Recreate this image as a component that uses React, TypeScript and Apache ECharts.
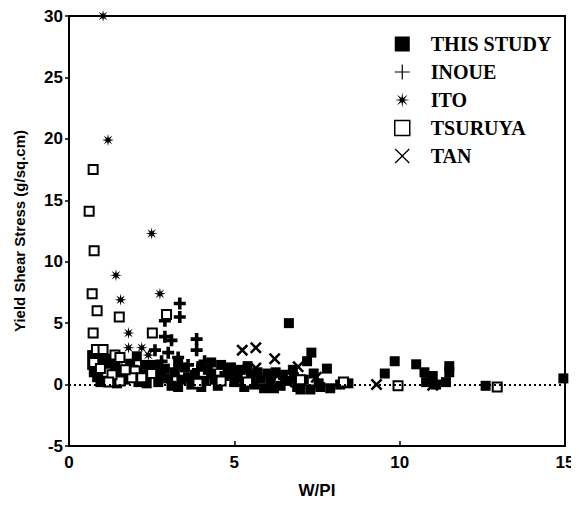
import React, { useEffect, useRef } from "react";
import * as echarts from "echarts";

const xTicks = [0, 5, 10, 15];
const yTicks = [-5, 0, 5, 10, 15, 20, 25, 30];

const thisStudy: [number, number][] = [
  [0.7, 2.4], [0.7, 1.6], [0.75, 1.0], [0.85, 0.6], [0.95, 0.2], [1.0, 2.0], [1.1, 1.3], [1.2, 0.5],
  [1.3, 2.1], [1.4, 1.5], [1.45, 0.1], [1.6, 1.0], [1.7, 0.4], [1.85, 1.7], [2.05, 2.3], [2.1, 0.2],
  [2.3, 1.6], [2.35, 0.1], [2.65, 1.0], [2.7, 0.2], [2.9, 1.3], [3.0, 0.5], [3.1, -0.1], [3.2, 1.0],
  [3.4, 0.4], [3.5, 1.4], [3.7, 0.0], [3.8, 0.8], [4.0, 1.5], [4.1, 0.3], [4.3, 1.8], [4.3, 0.9],
  [4.5, -0.1], [4.6, 1.6], [4.7, 0.7], [4.9, 1.4], [5.0, 0.2], [5.2, 1.2], [5.3, -0.2], [5.5, 0.7],
  [5.6, 0.0], [5.8, 0.5], [5.9, -0.3], [6.1, 0.2], [6.25, 1.0], [6.4, -0.1], [6.47, 0.8], [6.6, 0.3],
  [6.65, 5.0], [6.77, 1.2], [6.9, -0.2], [7.1, 0.4], [7.2, 1.9], [7.33, 2.6], [7.3, -0.4], [7.55, 0.1],
  [7.8, 1.3], [7.9, -0.3], [8.2, 0.0], [8.45, 0.1], [9.55, 0.9], [9.85, 1.9], [10.5, 1.65], [10.75, 1.0],
  [10.8, 0.2], [11.0, 0.7], [11.1, 0.0], [11.5, 1.5], [11.5, 1.0], [11.4, 0.2], [12.6, -0.1], [14.95, 0.5],
  [2.8, 0.7], [3.3, 1.7], [3.6, 0.6], [3.9, 0.3], [4.2, 1.2], [4.4, 0.4], [4.8, 1.0], [5.1, 0.6],
  [5.4, 1.5], [4.0, -0.2], [3.3, -0.2], [2.6, 1.6], [5.7, 1.0], [6.0, 0.9], [6.2, -0.3], [6.8, 0.6],
  [7.0, -0.4], [7.4, 0.9], [7.6, -0.2], [1.0, 0.9], [0.8, 1.3], [1.25, 1.7], [1.55, 0.5], [1.95, 1.2],
  [2.2, 0.8],
];

const inoue: [number, number][] = [
  [3.35, 6.6], [3.35, 5.5], [2.9, 5.2], [3.86, 3.7], [3.86, 2.8], [2.9, 3.9], [3.1, 3.6],
  [3.0, 2.6], [3.3, 2.2], [2.8, 1.9], [3.6, 1.6], [4.1, 1.9], [3.9, 1.2], [2.6, 2.8],
];

const ito: [number, number][] = [
  [1.03, 30], [1.18, 19.9], [2.5, 12.3], [1.42, 8.9], [1.56, 6.9], [2.75, 7.4],
  [1.8, 4.2], [1.8, 3.0], [2.2, 3.0], [1.6, 2.0], [2.4, 2.4], [1.1, 1.8],
];

const tsuruya: [number, number][] = [
  [0.61, 14.1], [0.73, 17.5], [0.76, 10.9], [0.7, 7.4], [0.85, 6.0], [1.52, 5.5], [0.73, 4.2],
  [2.52, 4.2], [2.95, 5.7], [0.83, 2.85], [1.03, 2.85], [1.39, 2.4], [1.54, 2.2], [2.0, 1.1],
  [2.2, 0.55], [1.9, 0.55], [1.54, 0.3], [1.14, 1.0], [0.75, 1.8], [0.95, 1.3], [1.3, 0.8],
  [1.7, 1.2], [1.2, 0.2], [2.5, 0.9], [3.9, 0.1], [4.6, 0.3], [5.4, 0.2], [7.0, 0.4], [8.3, 0.2],
  [9.95, -0.1], [12.95, -0.2],
];

const tan: [number, number][] = [
  [5.24, 2.8], [5.65, 3.0], [6.22, 2.1], [5.65, 1.35], [6.93, 1.45], [7.48, 0.6],
  [6.3, 0.7], [9.3, 0.0], [11.0, -0.05], [5.0, 0.9], [6.6, 0.2],
];

const PLUS_BOLD = "path://M3.5,0H6.5V3.5H10V6.5H6.5V10H3.5V6.5H0V3.5H3.5Z";
const PLUS_THIN = "path://M4.6,0H5.4V4.6H10V5.4H5.4V10H4.6V5.4H0V4.6H4.6Z";
const CROSS_BOLD = "path://M0,1.5L1.5,0L5,3.5L8.5,0L10,1.5L6.5,5L10,8.5L8.5,10L5,6.5L1.5,10L0,8.5L3.5,5Z";
const CROSS_THIN = "path://M0,0.6L0.6,0L5,4.4L9.4,0L10,0.6L5.6,5L10,9.4L9.4,10L5,5.6L0.6,10L0,9.4L4.4,5Z";
const STAR_BOLD =
  "path://M10,5L6.66,5.69L8.54,8.54L5.69,6.66L5,10L4.31,6.66L1.46,8.54L3.34,5.69L0,5L3.34,4.31L1.46,1.46L4.31,3.34L5,0L5.69,3.34L8.54,1.46L6.66,4.31Z";
const STAR_LEGEND =
  "path://M10,5L6.3,5.55L8.54,8.54L5.55,6.3L5,10L4.45,6.3L1.46,8.54L3.7,5.55L0,5L3.7,4.45L1.46,1.46L4.45,3.7L5,0L5.55,3.7L8.54,1.46L6.3,4.45Z";

export default function App() {
  const ref = useRef<HTMLDivElement>(null);
  useEffect(() => {
    if (!ref.current) return;
    const chart = echarts.init(ref.current, undefined, { renderer: "svg" });
    const axisFont = { fontFamily: "Liberation Sans", fontWeight: "bold" as const, fontSize: 17, color: "#000" };
    chart.setOption({
      animation: false,
      backgroundColor: "#fff",
      grid: {
        left: 61,
        right: 14,
        top: 8,
        bottom: 61,
        show: true,
        borderColor: "#000",
        borderWidth: 2,
        containLabel: false,
        outerBoundsMode: "none",
      },
      legend: {
        orient: "vertical",
        left: 381,
        top: 21,
        itemWidth: 15,
        itemHeight: 15,
        itemGap: 8,
        textStyle: {
          fontFamily: "Liberation Serif",
          fontWeight: "bold",
          fontSize: 20,
          color: "#000",
          padding: [0, 0, 0, 16],
        },
        data: [
          { name: "THIS STUDY", icon: "rect" },
          { name: "INOUE", icon: PLUS_THIN },
          { name: "ITO", icon: STAR_LEGEND },
          { name: "TSURUYA", icon: "rect", itemStyle: { color: "#fff", borderColor: "#000", borderWidth: 1.5 } },
          { name: "TAN", icon: CROSS_THIN },
        ],
      },
      xAxis: {
        type: "value",
        min: xTicks[0],
        max: xTicks[xTicks.length - 1],
        interval: 5,
        name: "W/PI",
        nameLocation: "middle",
        nameGap: 36,
        nameTextStyle: axisFont,
        axisLine: { show: true, onZero: false, lineStyle: { color: "#000", width: 2 } },
        axisTick: { show: true, inside: true, length: 5, lineStyle: { color: "#000", width: 1.5 } },
        axisLabel: { ...axisFont, margin: 8 },
        splitLine: { show: false },
      },
      yAxis: {
        type: "value",
        min: yTicks[0],
        max: yTicks[yTicks.length - 1],
        interval: 5,
        name: "Yield Shear Stress (g/sq.cm)",
        nameLocation: "middle",
        nameGap: 42,
        nameTextStyle: { fontFamily: "Liberation Sans", fontWeight: "bold", fontSize: 15, color: "#000" },
        axisLine: { show: true, onZero: false, lineStyle: { color: "#000", width: 2 } },
        axisTick: { show: true, inside: false, length: 4, lineStyle: { color: "#000", width: 1.5 } },
        axisLabel: { ...axisFont, margin: 6 },
        splitLine: { show: false },
      },
      series: [
        {
          name: "THIS STUDY",
          type: "scatter",
          data: thisStudy,
          symbol: "rect",
          symbolSize: 10,
          itemStyle: { color: "#000", opacity: 1 },
          markLine: {
            silent: true,
            symbol: "none",
            label: { show: false },
            lineStyle: { type: [2, 3], color: "#000", width: 2 },
            data: [{ yAxis: 0 }],
          },
        },
        {
          name: "INOUE",
          type: "scatter",
          data: inoue,
          symbol: PLUS_BOLD,
          symbolSize: 12,
          itemStyle: { color: "#000", opacity: 1 },
        },
        {
          name: "ITO",
          type: "scatter",
          data: ito,
          symbol: STAR_BOLD,
          symbolSize: 12,
          itemStyle: { color: "#000", opacity: 1 },
        },
        {
          name: "TSURUYA",
          type: "scatter",
          data: tsuruya,
          symbol: "emptyRect",
          symbolSize: 9,
          itemStyle: { color: "#000", borderWidth: 2, opacity: 1 },
        },
        {
          name: "TAN",
          type: "scatter",
          data: tan,
          symbol: CROSS_BOLD,
          symbolSize: 12,
          itemStyle: { color: "#000", opacity: 1 },
        },
      ],
    });
    return () => chart.dispose();
  }, []);
  return <div ref={ref} style={{ width: 571, height: 499 }} />;
}
